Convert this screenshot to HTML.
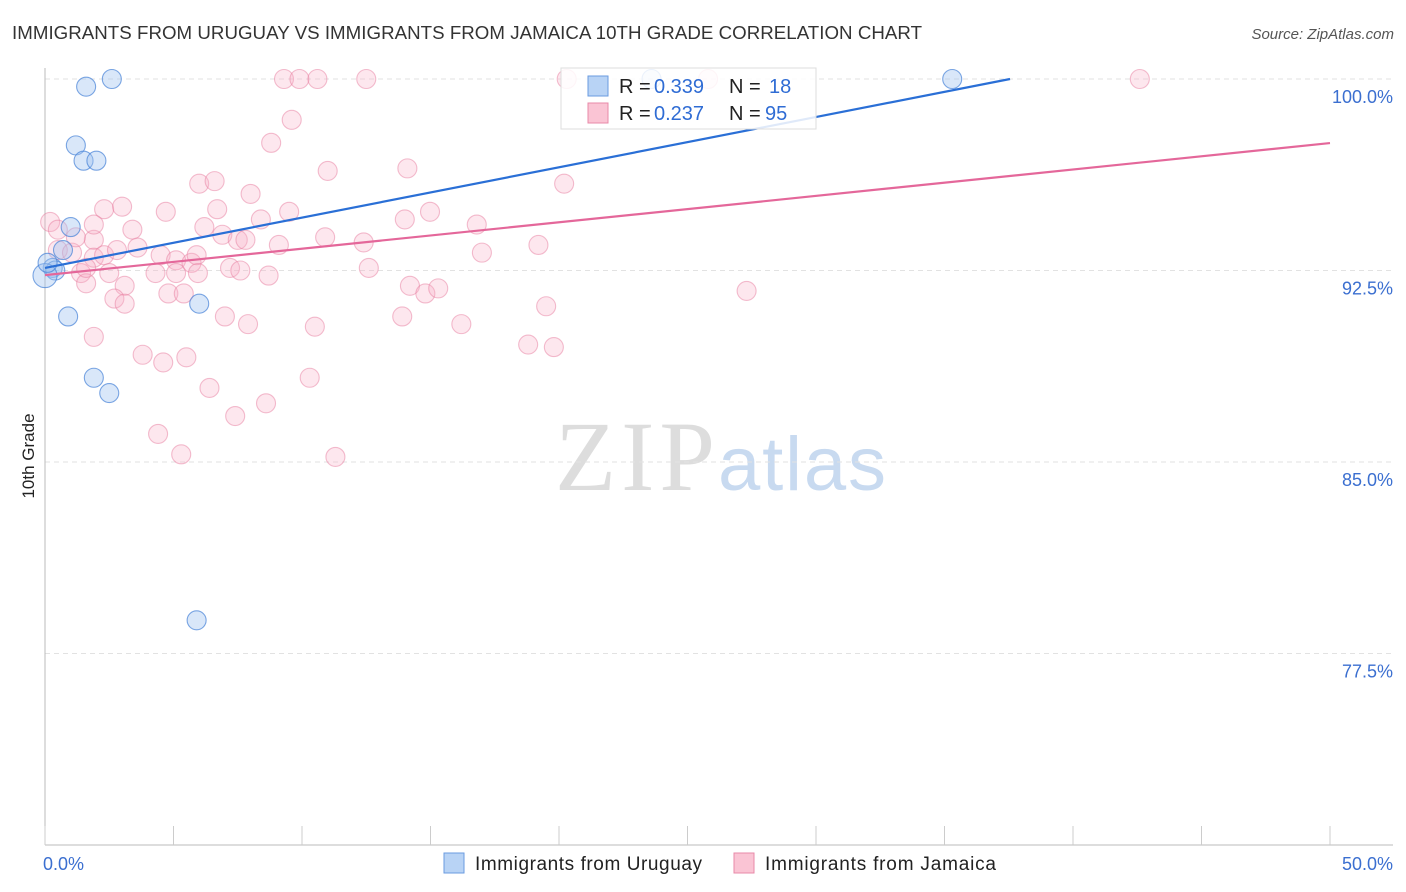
<!DOCTYPE html>
<html><head><meta charset="utf-8"><style>
body{margin:0;background:#fff;font-family:"Liberation Sans",sans-serif;}
svg{display:block}
</style></head><body>
<svg id="chart" width="1406" height="892">
<text x="12" y="39" font-size="18.7" fill="#333" textLength="910">IMMIGRANTS FROM URUGUAY VS IMMIGRANTS FROM JAMAICA 10TH GRADE CORRELATION CHART</text>
<text x="1394" y="39" font-size="15" fill="#555" font-style="italic" text-anchor="end">Source: ZipAtlas.com</text>
<text x="34" y="456" font-size="17" fill="#222" text-anchor="middle" transform="rotate(-90 34 456)">10th Grade</text>
<g>
<text x="555" y="490" font-size="100" fill="#ddd" font-family="Liberation Serif,serif" textLength="160">ZIP</text>
<text x="718" y="490" font-size="76" fill="#c8daf0" textLength="168">atlas</text>
</g>
<g id="grid"></g>
<g id="axes"></g>
<g id="points"></g>
<g id="lines"></g>
<g>
<rect x="561" y="68" width="255" height="61" fill="rgba(255,255,255,0.85)" stroke="#ddd"/>
<rect x="588" y="76" width="20" height="20" fill="#b8d3f5" stroke="#6a9be0"/>
<rect x="588" y="103" width="20" height="20" fill="#fac4d4" stroke="#e88aa8"/>
<text x="619" y="93" font-size="20" fill="#222">R = <tspan x="654" fill="#2f6cd4">0.339</tspan></text>
<text x="729" y="93" font-size="20" fill="#222">N = <tspan x="769" fill="#2f6cd4">18</tspan></text>
<text x="619" y="120" font-size="20" fill="#222">R = <tspan x="654" fill="#2f6cd4">0.237</tspan></text>
<text x="729" y="120" font-size="20" fill="#222">N = <tspan x="765" fill="#2f6cd4">95</tspan></text>
</g>
<g>
<rect x="444" y="853" width="20" height="20" fill="#b8d3f5" stroke="#6a9be0"/>
<text x="475" y="870" font-size="19" fill="#222" textLength="227">Immigrants from Uruguay</text>
<rect x="734" y="853" width="20" height="20" fill="#fac4d4" stroke="#e88aa8"/>
<text x="765" y="870" font-size="19" fill="#222" textLength="231">Immigrants from Jamaica</text>
</g>
</svg>
<script>
const yTicks=[100,92.5,85,77.5];
const yTickLabels=["100.0%","92.5%","85.0%","77.5%"];
const xTickLabels=["0.0%","50.0%"];
const uruguayX=[2.6,1.6,1.2,1.5,2.0,1.0,0.7,0.3,0.4,0.0,0.9,6.0,1.9,2.5,5.9,23.6,35.3,0.1];
const uruguayY=[100,99.7,97.4,96.8,96.8,94.2,93.3,92.6,92.5,92.3,90.7,91.2,88.3,87.7,78.8,100,100,92.8];
const jamaicaX=[9.3,9.9,10.6,12.5,20.3,25.8,42.6,9.6,8.8,11.0,14.1,6.0,6.6,8.0,20.2,2.3,3.0,4.7,6.7,9.5,8.4,14.0,14.981,16.8,0.2,0.5,1.9,1.9,3.4,6.2,6.9,7.5,7.8,9.1,10.9,12.4,19.2,17.0,0.5,1.05,1.9,2.3,2.8,3.6,4.5,5.1,5.7,5.9,7.2,7.6,8.7,12.6,4.3,5.1,5.95,2.5,1.4,1.6,3.1,4.8,5.4,2.7,3.1,14.2,14.8,15.3,7.0,7.9,10.5,13.9,16.2,19.5,27.3,1.9,3.8,4.6,5.5,18.8,19.8,10.3,6.4,8.6,7.4,4.4,5.3,11.3,1.2,1.6];
const jamaicaY=[100,100,100,100,100,100,100,98.4,97.5,96.4,96.5,95.9,96.0,95.5,95.9,94.9,95.0,94.8,94.9,94.8,94.5,94.5,94.8,94.3,94.4,94.1,93.7,94.3,94.1,94.2,93.9,93.7,93.7,93.5,93.8,93.6,93.5,93.2,93.3,93.2,93.0,93.1,93.3,93.4,93.1,92.9,92.8,93.1,92.6,92.5,92.3,92.6,92.4,92.4,92.4,92.4,92.4,92.0,91.9,91.6,91.6,91.4,91.2,91.9,91.6,91.8,90.7,90.4,90.3,90.7,90.4,91.1,91.7,89.9,89.2,88.9,89.1,89.6,89.5,88.3,87.9,87.3,86.8,86.1,85.3,85.2,93.8,92.6];
const trendUruguay=[92.6,100,37.55];
const trendJamaica=[92.32,97.49,50];
const NS='http://www.w3.org/2000/svg';
const X0=45,X1=1330,Y0=845,Y1=79;
const sx=v=>X0+(v/50)*(X1-X0);
const sy=v=>Y1+(100-v)/30*(Y0-Y1);
function mk(tag,attrs,parent){const e=document.createElementNS(NS,tag);for(const k in attrs)e.setAttribute(k,attrs[k]);document.getElementById(parent).appendChild(e);return e;}
yTicks.forEach((t,i)=>{
 const l=mk('line',{x1:X0,x2:1393,y1:sy(t),y2:sy(t),stroke:'#e2e2e2','stroke-dasharray':'5,4'},'grid');
 
 
 const tx=mk('text',{x:1393,y:sy(t)+24,'font-size':18,fill:'#3b6fd0','text-anchor':'end'},'axes');
 tx.textContent=yTickLabels[i];
 
 
});
const ax=mk('line',{x1:X0,x2:X0,y1:68,y2:Y0,stroke:'#bbb'},'axes');


const bx=mk('line',{x1:X0,x2:1393,y1:Y0,y2:Y0,stroke:'#bbb'},'axes');


for(let i=0;i<=10;i++){
 const tk=mk('line',{x1:sx(i*5),x2:sx(i*5),y1:826,y2:Y0,stroke:'#ccc'},'axes');
 
 
}
[[X0-2,'start'],[1393,'end']].forEach((p,i)=>{
 const t=mk('text',{x:p[0],y:870,'font-size':18,fill:'#3b6fd0','text-anchor':p[1]},'axes');
 t.textContent=xTickLabels[i];
 
 
});
jamaicaX.forEach((x,i)=>{
 const c=mk('circle',{cx:sx(x),cy:sy(jamaicaY[i]),r:9.5,fill:'rgba(248,175,198,0.3)',stroke:'rgba(232,125,160,0.5)','stroke-width':1.1},'points');
 
 
});
uruguayX.forEach((x,i)=>{
 const c=mk('circle',{cx:sx(x),cy:sy(uruguayY[i]),r:(x===0?12:9.5),fill:'rgba(160,196,240,0.4)',stroke:'rgba(70,130,215,0.7)','stroke-width':1.1},'points');
 
 
});
const lu=mk('line',{x1:sx(0),y1:sy(trendUruguay[0]),x2:sx(trendUruguay[2]),y2:sy(trendUruguay[1]),stroke:'#2a6fd6','stroke-width':2.2},'lines');


const lj=mk('line',{x1:sx(0),y1:sy(trendJamaica[0]),x2:sx(trendJamaica[2]),y2:sy(trendJamaica[1]),stroke:'#e4679a','stroke-width':2.2},'lines');


</script>
</body></html>
